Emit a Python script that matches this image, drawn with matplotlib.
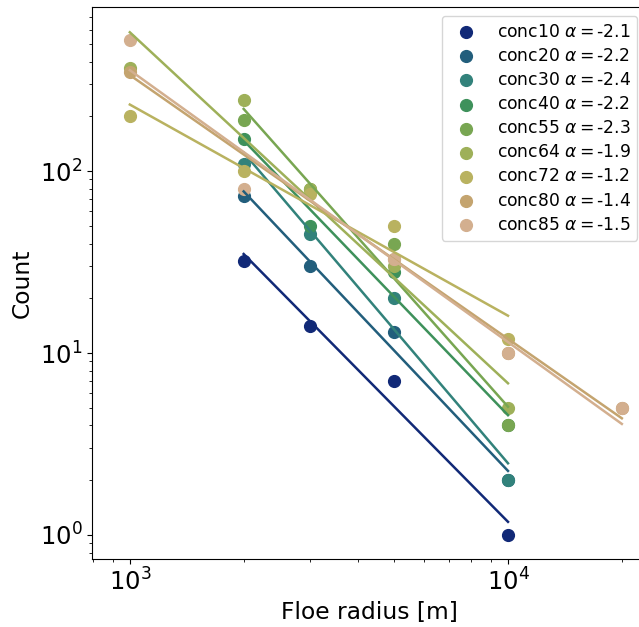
import numpy as np
import matplotlib
matplotlib.use("Agg")
import matplotlib.pyplot as plt

# floe radius bins [m]
radius = np.array([1000, 2000, 3000, 5000, 10000, 20000])
nan = np.nan

# ice concentration runs (%) and floe counts per radius bin (nan = no floes)
conc = [10, 20, 30, 40, 55, 64, 72, 80, 85]
count_10 = [nan, 32, 14, 7, 1, nan]
count_20 = [nan, 73, 30, 13, 2, nan]
count_30 = [nan, 110, 45, 20, 2, nan]
count_40 = [nan, 150, 50, 28, 4, nan]
count_55 = [nan, 190, 80, 40, 4, nan]
count_64 = [370, 245, 80, 30, 5, nan]
count_72 = [200, 100, 75, 50, 12, nan]
count_80 = [350, nan, nan, 33, 10, 5]
count_85 = [525, 80, nan, 33, 10, 5]
counts = [count_10, count_20, count_30, count_40, count_55,
          count_64, count_72, count_80, count_85]

# power-law exponents shown in the legend
alphas = [-2.1, -2.2, -2.4, -2.2, -2.3, -1.9, -1.2, -1.4, -1.5]

cmap = plt.get_cmap("gist_earth")

fig = plt.figure(figsize=(6.39, 6.27), dpi=100)
ax = fig.add_axes([0.144, 0.1085, 0.867, 0.880])

for c, cnt, a in zip(conc, counts, alphas):
    cnt = np.array(cnt, dtype=float)
    ok = ~np.isnan(cnt)
    x, y = radius[ok], cnt[ok]
    col = cmap(c / 100)
    ax.scatter(x, y, s=72, color=col, label=f"conc{c} $\\alpha=${a}")
    # least squares fit in log-log space
    p = np.polyfit(np.log10(x), np.log10(y), 1)
    xf = np.array([x.min(), x.max()])
    ax.plot(xf, 10 ** np.polyval(p, np.log10(xf)), color=col, lw=1.8)

ax.set_xscale("log")
ax.set_yscale("log")
ax.set_xlim(10 ** 2.9, 10 ** 4.365)
ax.set_ylim(10 ** -0.132, 10 ** 2.901)
ax.set_xlabel("Floe radius [m]", fontsize=16.8)
ax.set_ylabel("Count", fontsize=16.8)
ax.tick_params(labelsize=17.5)
ax.legend(loc="upper right", fontsize=12.3, labelspacing=0.36)

fig.savefig("out.png", dpi=100)
